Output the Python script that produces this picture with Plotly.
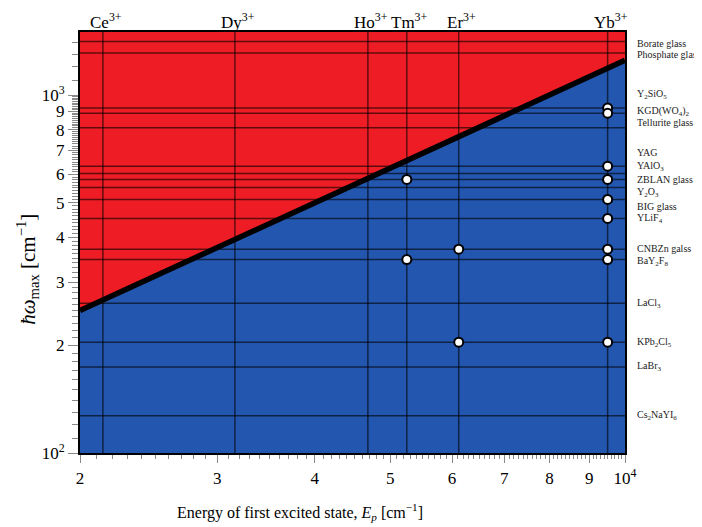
import math
import plotly.graph_objects as go

# ---------------- data ----------------
ion_names = ["Ce<sup>3+</sup>", "Dy<sup>3+</sup>", "Ho<sup>3+</sup>", "Tm<sup>3+</sup>", "Er<sup>3+</sup>", "Yb<sup>3+</sup>"]
ion_keys = ["Ce", "Dy", "Ho", "Tm", "Er", "Yb"]
ion_energy = [2140, 3160, 4680, 5250, 6120, 9500]  # cm^-1

material_names = [
    "Borate glass", "Phosphate glass", "Y<sub>2</sub>SiO<sub>5</sub>", "KGD(WO<sub>4</sub>)<sub>2</sub>",
    "Tellurite glass", "YAG", "YAlO<sub>3</sub>", "ZBLAN glass", "Y<sub>2</sub>O<sub>3</sub>", "BIG glass",
    "YLiF<sub>4</sub>", "CNBZn galss", "BaY<sub>2</sub>F<sub>8</sub>", "LaCl<sub>3</sub>",
    "KPb<sub>2</sub>Cl<sub>5</sub>", "LaBr<sub>3</sub>", "Cs<sub>2</sub>NaYI<sub>6</sub>",
]
material_keys = ["Borate", "Phosphate", "Y2SiO5", "KGD", "Tellurite", "YAG", "YAlO3", "ZBLAN", "Y2O3", "BIG",
                 "YLiF4", "CNBZn", "BaY2F8", "LaCl3", "KPb2Cl5", "LaBr3", "Cs2NaYI6"]
phonon_energy = [1410, 1310, 920, 890, 810, 633, 604, 581, 552, 511, 452, 371, 347, 262, 204, 174, 127]  # cm^-1

# ion / host combinations that are marked with a dot
dot_ion = ["Yb", "Yb", "Yb", "Yb", "Yb", "Yb", "Yb", "Yb", "Yb", "Tm", "Tm", "Er", "Er"]
dot_material = ["Y2SiO5", "KGD", "YAG", "ZBLAN", "BIG", "YLiF4", "CNBZn", "BaY2F8", "KPb2Cl5",
                "ZBLAN", "BaY2F8", "CNBZn", "KPb2Cl5"]

# threshold: hbar*omega_max = E_p / 8
threshold_ratio = 8

x_ticks = [2000, 3000, 4000, 5000, 6000, 7000, 8000, 9000, 10000]
x_ticktext = ["2", "3", "4", "5", "6", "7", "8", "9", "10<sup>4</sup>"]
y_ticks = [100, 200, 300, 400, 500, 600, 700, 800, 900, 1000]
y_ticktext = ["10<sup>2</sup>", "2", "3", "4", "5", "6", "7", "8", "9", "10<sup>3</sup>"]

x_min, x_max = 2000, 10000
y_min, y_max = 100, 1500

# label layout (pixel offsets of right-hand labels relative to their line)
label_shift = [-2, -1, 14, 2, 5, 14, 7, 0, -5, -7, 0, 1, -2, 0, 0, 0, 0]
label_leader = [False, False, True, True, False, True, True, True, True, True, True, False, False, False, False, False, False]

# ---------------- style ----------------
RED = "#EE1D25"
BLUE = "#2356AE"
GRID = "rgba(0,0,0,0.6)"
FONT = "Liberation Serif"

fig = go.Figure()

# blue region below threshold
fig.add_trace(go.Scatter(x=[x_min, x_max], y=[y_min, y_min], mode="lines",
                         line=dict(width=0, color=BLUE), hoverinfo="skip", showlegend=False))
fig.add_trace(go.Scatter(x=[x_min, x_max], y=[x_min / threshold_ratio, x_max / threshold_ratio],
                         mode="lines", line=dict(width=0, color=BLUE), fill="tonexty", fillcolor=BLUE,
                         hoverinfo="skip", showlegend=False))

# grid lines: materials (horizontal) and ions (vertical)
gx, gy = [], []
for v in phonon_energy:
    gx += [x_min, x_max, None]
    gy += [v, v, None]
for e in ion_energy:
    gx += [e, e, None]
    gy += [y_min, y_max, None]
fig.add_trace(go.Scatter(x=gx, y=gy, mode="lines", line=dict(color=GRID, width=1.5),
                         hoverinfo="skip", showlegend=False))

# threshold line
fig.add_trace(go.Scatter(x=[x_min, x_max], y=[x_min / threshold_ratio, x_max / threshold_ratio],
                         mode="lines", line=dict(color="black", width=5.5), hoverinfo="skip", showlegend=False))

# dots
ion_lookup = dict(zip(ion_keys, ion_energy))
mat_lookup = dict(zip(material_keys, phonon_energy))
fig.add_trace(go.Scatter(x=[ion_lookup[i] for i in dot_ion], y=[mat_lookup[m] for m in dot_material],
                         mode="markers",
                         marker=dict(size=9, color="white", line=dict(color="black", width=2)),
                         showlegend=False))

annotations = []
shapes = []
# right-hand material labels
for name, v, sh, ld in zip(material_names, phonon_energy, label_shift, label_leader):
    annotations.append(dict(x=1, xref="paper", y=math.log10(v), yref="y", text=name, showarrow=False,
                            xanchor="left", yanchor="middle", xshift=10, yshift=sh,
                            font=dict(family=FONT, size=10, color="#222")))
    if ld:
        shapes.append(dict(type="line", xref="paper", xsizemode="pixel", xanchor=1, x0=1, x1=10,
                           yref="y", ysizemode="pixel", yanchor=math.log10(v), y0=0, y1=sh,
                           line=dict(color="#777", width=1)))

# ion labels on top
for name, e in zip(ion_names, ion_energy):
    annotations.append(dict(x=math.log10(e), xref="x", y=1, yref="paper", text=name, showarrow=False,
                            xanchor="center", yanchor="bottom", xshift=3, yshift=-2,
                            font=dict(family=FONT, size=17, color="black")))

# axis titles
annotations.append(dict(x=0, xref="paper", y=0.435, yref="paper", xshift=-52,
                        text="<i>ħω</i><sub>max</sub> [cm<sup>−1</sup>]", showarrow=False, textangle=-90,
                        xanchor="center", yanchor="middle", font=dict(family=FONT, size=21, color="black")))
annotations.append(dict(x=0.404, xref="paper", y=0, yref="paper", yshift=-59,
                        text="Energy of first excited state, <i>E<sub>p</sub></i> [cm<sup>−1</sup>]",
                        showarrow=False, xanchor="center", yanchor="middle",
                        font=dict(family=FONT, size=16, color="black")))

x_minor = [v for v in range(2100, 10000, 100) if v not in x_ticks]
y_minor = [v for v in range(110, 1000, 10) if v not in y_ticks] + list(range(1100, 1500, 100))

# the page body adds an 8 px margin, so the figure is slightly smaller than the window
fig.update_layout(
    width=694, height=519,
    margin=dict(l=72, r=77, t=24, b=74),
    paper_bgcolor="white", plot_bgcolor=RED,
    showlegend=False,
    annotations=annotations, shapes=shapes,
    font=dict(family=FONT, color="black"),
)
fig.update_xaxes(type="log", range=[math.log10(x_min), math.log10(x_max)],
                 tickmode="array", tickvals=x_ticks, ticktext=x_ticktext,
                 ticks="outside", ticklen=8, tickcolor="#888", tickwidth=1.2,
                 ticklabelstandoff=1,
                 tickfont=dict(family=FONT, size=17, color="black"),
                 showgrid=False, zeroline=False,
                 showline=True, linecolor="black", linewidth=2, mirror=True,
                 minor=dict(tickmode="array", tickvals=x_minor, ticks="outside", ticklen=4,
                            tickcolor="#888", tickwidth=1, showgrid=False))
fig.update_yaxes(type="log", range=[math.log10(y_min), math.log10(y_max)],
                 tickmode="array", tickvals=y_ticks, ticktext=y_ticktext,
                 ticks="outside", ticklen=10, tickcolor="#888", tickwidth=1.2,
                 tickfont=dict(family=FONT, size=17, color="black"),
                 showgrid=False, zeroline=False,
                 showline=True, linecolor="black", linewidth=2, mirror=True,
                 minor=dict(tickmode="array", tickvals=y_minor, ticks="outside", ticklen=6,
                            tickcolor="#888", tickwidth=1, showgrid=False))

fig.write_html("out.html")
